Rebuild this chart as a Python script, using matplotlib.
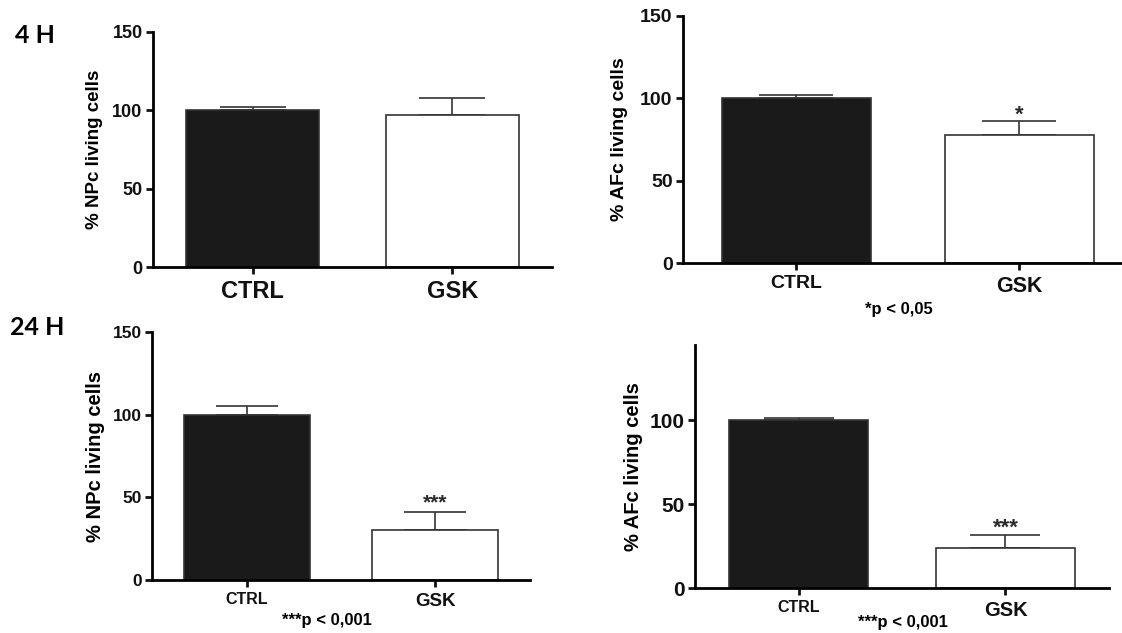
import matplotlib
matplotlib.use("Agg")
import matplotlib.pyplot as plt

plt.rcParams["font.family"] = ["Liberation Sans", "DejaVu Sans"]

W, H = 1122, 633

# data (% living cells, mean and upper error)
groups = ["CTRL", "GSK"]
npc_4h_mean = [100, 97]
npc_4h_err = [2, 11]
afc_4h_mean = [100, 78]
afc_4h_err = [2, 8]
npc_24h_mean = [100, 30]
npc_24h_err = [5, 11]
afc_24h_mean = [100, 24]
afc_24h_err = [1.2, 7.5]

ylabels = ["% NPc living cells", "% AFc living cells",
           "% NPc living cells", "% AFc living cells"]
stars = [["", ""], ["", "*"], ["", "***"], ["", "***"]]
pvalues = ["", "*p < 0,05", "***p < 0,001", "***p < 0,001"]

# layout of each panel in pixels: axis box, limits, font sizes
panels = [
    dict(box=(153, 32, 552, 267), xlim=(-0.5, 1.5), ylim=(0, 150), yticks=[0, 50, 100, 150],
         tick_fs=13, xlab_fs=(17, 17), ylab_fs=13.5, star_fs=15, star_pad=2, p_pos=None),
    dict(box=(683, 16, 1122, 263), xlim=(-0.507, 1.46), ylim=(0, 150), yticks=[0, 50, 100, 150],
         tick_fs=14, xlab_fs=(14, 15.5), ylab_fs=14, star_fs=16, star_pad=0.5, p_pos=(0.492, -0.19)),
    dict(box=(152, 332, 530, 580), xlim=(-0.505, 1.505), ylim=(0, 150), yticks=[0, 50, 100, 150],
         tick_fs=12.5, xlab_fs=(11.5, 13.5), ylab_fs=14.5, star_fs=15, star_pad=3, p_pos=(0.463, -0.165)),
    dict(box=(695, 345, 1109, 588), xlim=(-0.5, 1.5), ylim=(0, 145), yticks=[0, 50, 100],
         tick_fs=15, xlab_fs=(11.5, 14.5), ylab_fs=14.5, star_fs=16, star_pad=1, p_pos=(0.502, -0.144)),
]

means = [npc_4h_mean, afc_4h_mean, npc_24h_mean, afc_24h_mean]
errs = [npc_4h_err, afc_4h_err, npc_24h_err, afc_24h_err]

fig = plt.figure(figsize=(W / 100, H / 100), dpi=100)
fig.patch.set_facecolor("white")

bar_width = 0.667
edge = "#333333"

for i, p in enumerate(panels):
    x0, y0, x1, y1 = p["box"]
    ax = fig.add_axes([x0 / W, 1 - y1 / H, (x1 - x0) / W, (y1 - y0) / H])
    xs = range(len(groups))

    ax.bar(xs, means[i], width=bar_width, color=["#1a1a1a", "white"],
           edgecolor=edge, linewidth=1.2, zorder=2)

    # cap is half the bar width
    ax_w_pt = (x1 - x0) / 100 * 72
    cap = ax_w_pt / (p["xlim"][1] - p["xlim"][0]) * bar_width / 4
    ax.errorbar(xs, means[i], yerr=[[0] * len(groups), errs[i]], fmt="none",
                ecolor=edge, elinewidth=1.2, capsize=cap, capthick=1.2, zorder=1)

    for j, s in enumerate(stars[i]):
        if s:
            ax.annotate(s, (j, means[i][j] + errs[i][j]), xytext=(0, p["star_pad"]),
                        textcoords="offset points", ha="center", va="baseline",
                        fontsize=p["star_fs"], fontweight="bold", color="#2a2a2a")

    ax.set_xlim(*p["xlim"])
    ax.set_ylim(*p["ylim"])
    ax.set_yticks(p["yticks"])
    ax.set_xticks(list(xs))
    ax.set_xticklabels(groups, fontweight="bold")
    for lab, fs in zip(ax.get_xticklabels(), p["xlab_fs"]):
        lab.set_fontsize(fs)
    for lab in ax.get_yticklabels():
        lab.set_fontsize(p["tick_fs"])
        lab.set_fontweight("bold")

    ax.spines["top"].set_visible(False)
    ax.spines["right"].set_visible(False)
    ax.spines["left"].set_linewidth(2)
    ax.spines["bottom"].set_linewidth(2)
    ax.tick_params(axis="both", direction="out", length=5, width=2, colors="#111111", pad=2.5)
    ax.tick_params(axis="x", pad=4)

    ax.set_ylabel(ylabels[i], fontsize=p["ylab_fs"], fontweight="bold")
    ax.yaxis.set_label_coords(-0.125, 0.5)

    if p["p_pos"]:
        ax.text(p["p_pos"][0], p["p_pos"][1], pvalues[i], transform=ax.transAxes,
                ha="center", va="center", fontsize=12, fontweight="bold")

fig.text(15 / W, 1 - 43 / H, "4 H", fontsize=18, fontweight="bold",
         family=["Lato", "DejaVu Sans"], va="baseline")
fig.text(10 / W, 1 - 335 / H, "24 H", fontsize=18, fontweight="bold",
         family=["Lato", "DejaVu Sans"], va="baseline")

fig.savefig("out.png", dpi=100, facecolor="white")
